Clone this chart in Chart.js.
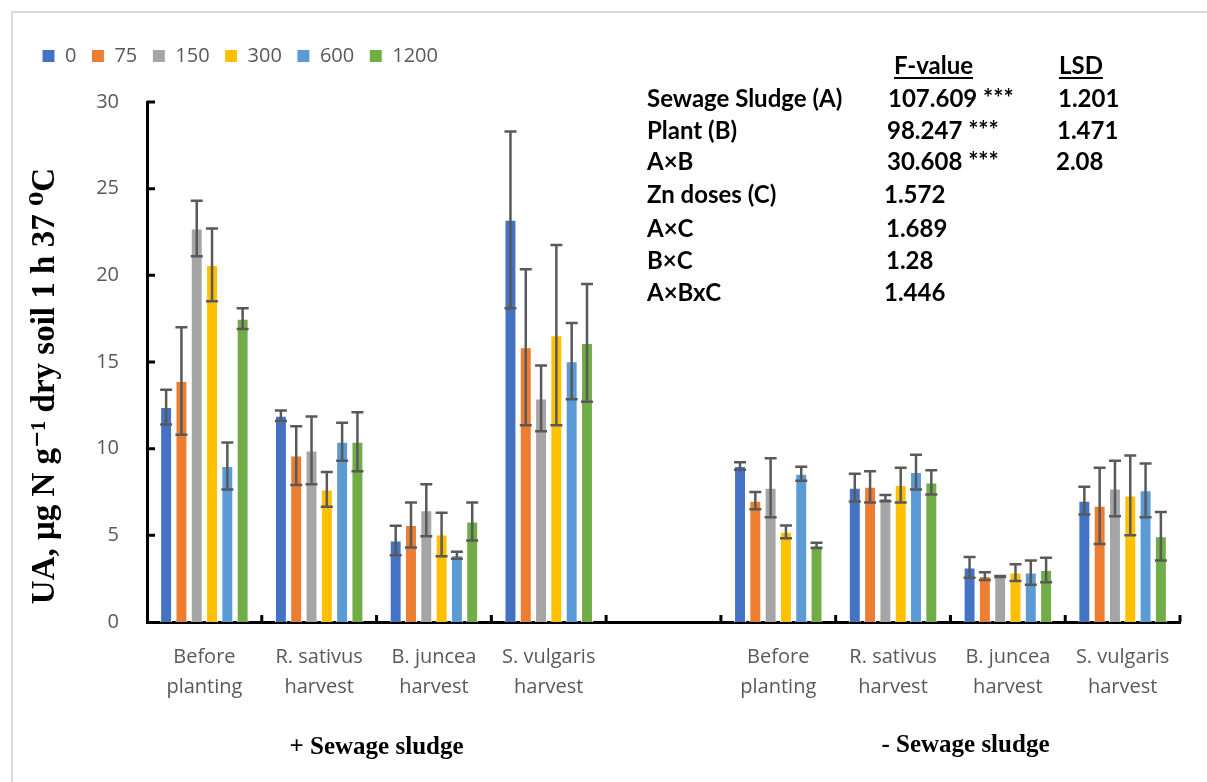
<!DOCTYPE html>
<html>
<head>
<meta charset="utf-8">
<script src="https://cdn.jsdelivr.net/npm/chart.js@4"></script>
<style>
  html, body { margin: 0; padding: 0; background: #fff; }
  #wrap { width: 1207px; height: 782px; position: relative; }
</style>
</head>
<body>
<div id="wrap"><canvas id="chart" width="1207" height="782"></canvas></div>
<script>
/* ---------- data ---------- */
const categories = [
  ["Before", "planting"], ["R. sativus", "harvest"], ["B. juncea", "harvest"], ["S. vulgaris", "harvest"],
  "",
  ["Before", "planting"], ["R. sativus", "harvest"], ["B. juncea", "harvest"], ["S. vulgaris", "harvest"]
];
const doses = ["0", "75", "150", "300", "600", "1200"];
const ua0    = [12.4, 11.9, 4.7, 23.2, null, 9.0, 7.75, 3.15, 7.0];
const ua75   = [13.9, 9.6, 5.6, 15.85, null, 7.0, 7.8, 2.65, 6.7];
const ua150  = [22.7, 9.9, 6.45, 12.9, null, 7.75, 7.15, 2.62, 7.7];
const ua300  = [20.6, 7.65, 5.05, 16.55, null, 5.2, 7.9, 2.85, 7.3];
const ua600  = [9.0, 10.4, 3.85, 15.05, null, 8.55, 8.65, 2.85, 7.6];
const ua1200 = [17.5, 10.4, 5.8, 16.1, null, 4.42, 8.05, 3.0, 4.95];
const err0    = [1.0, 0.3, 0.85, 5.1, null, 0.22, 0.8, 0.6, 0.8];
const err75   = [3.1, 1.7, 1.3, 4.5, null, 0.5, 0.9, 0.22, 2.2];
const err150  = [1.6, 1.95, 1.5, 1.9, null, 1.7, 0.18, 0.03, 1.6];
const err300  = [2.1, 1.0, 1.25, 5.2, null, 0.37, 1.0, 0.48, 2.3];
const err600  = [1.35, 1.1, 0.2, 2.2, null, 0.4, 1.0, 0.7, 1.55];
const err1200 = [0.6, 1.7, 1.1, 3.4, null, 0.15, 0.7, 0.7, 1.4];
const groupLabels = ["+ Sewage sludge", "- Sewage sludge"];
const statRows = ["Sewage Sludge (A)", "Plant (B)", "A\u00d7B", "Zn doses (C)", "A\u00d7C", "B\u00d7C", "A\u00d7BxC"];
const statF = ["107.609 ***", "98.247 ***", "30.608 ***", "1.572", "1.689", "1.28", "1.446"];
const statLSD = ["1.201", "1.471", "2.08", "", "", "", ""];

const colors = ["#4472C4", "#ED7D31", "#A5A5A5", "#FFC000", "#5B9BD5", "#70AD47"];
const values = [ua0, ua75, ua150, ua300, ua600, ua1200];
const errors = [err0, err75, err150, err300, err600, err1200];

const GRAY = "#595959";
const calibri = '"Liberation Sans Narrow", "Open Sans", sans-serif';
const times = '"Liberation Serif", "DejaVu Serif", serif';

/* ---------- extra gap under the legend ---------- */
const legendGap = {
  id: "legendGap",
  beforeInit(chart) {
    const fit = chart.legend.fit;
    chart.legend.fit = function () {
      fit.bind(chart.legend)();
      this.height += 26;
    };
  }
};

/* ---------- error bars ---------- */
const errorBars = {
  id: "errorBars",
  afterDatasetsDraw(chart) {
    const ctx = chart.ctx, y = chart.scales.y;
    ctx.save();
    ctx.strokeStyle = GRAY;
    ctx.lineWidth = 2.5;
    chart.data.datasets.forEach((ds, i) => {
      const meta = chart.getDatasetMeta(i);
      meta.data.forEach((bar, j) => {
        const v = ds.data[j], e = ds.errors[j];
        if (v == null || e == null) return;
        const yt = y.getPixelForValue(v + e), yb = y.getPixelForValue(v - e);
        ctx.beginPath();
        ctx.moveTo(bar.x, yt); ctx.lineTo(bar.x, yb);
        ctx.moveTo(bar.x - 6, yt); ctx.lineTo(bar.x + 6, yt);
        ctx.moveTo(bar.x - 6, yb); ctx.lineTo(bar.x + 6, yb);
        ctx.stroke();
      });
    });
    ctx.restore();
  }
};

/* ---------- axes ticks (inside), titles, stats table ---------- */
const extras = {
  id: "extras",
  afterDraw(chart) {
    const ctx = chart.ctx, a = chart.chartArea, x = chart.scales.x, y = chart.scales.y;
    ctx.save();
    // frame
    ctx.strokeStyle = "#D9D9D9";
    ctx.lineWidth = 2;
    ctx.strokeRect(12, 12, 1300, 900);
    // inside ticks
    ctx.strokeStyle = "#000";
    ctx.lineWidth = 3;
    ctx.beginPath();
    for (let v = 5; v <= 30; v += 5) {
      const py = y.getPixelForValue(v);
      ctx.moveTo(a.left, py); ctx.lineTo(a.left + 8, py);
    }
    const cw = (a.right - a.left) / categories.length;
    for (let i = 1; i <= categories.length; i++) {
      const px = a.left + i * cw;
      ctx.moveTo(px, a.bottom); ctx.lineTo(px, a.bottom - 7);
    }
    ctx.stroke();
    // y title
    ctx.fillStyle = "#000";
    ctx.font = "bold 33px " + times;
    ctx.textAlign = "center";
    ctx.textBaseline = "middle";
    ctx.save();
    ctx.translate(45, 386);
    ctx.rotate(-Math.PI / 2);
    ctx.fillText("UA, \u03bcg N g\u207b\u00b9 dry soil 1 h 37 \u2070C", 0, 0);
    ctx.restore();
    // group labels
    ctx.font = "bold 25px " + times;
    ctx.fillText(groupLabels[0], (x.getPixelForValue(0) + x.getPixelForValue(3)) / 2, 748);
    ctx.fillText(groupLabels[1], (x.getPixelForValue(5) + x.getPixelForValue(8)) / 2 + 15, 746);
    // stats table
    ctx.font = 'bold 24px Lato, "Open Sans", sans-serif';
    ctx.textAlign = "left";
    ctx.fillText("F-value", 894, 66);
    ctx.fillText("LSD", 1059, 66);
    const fw = ctx.measureText("F-value").width, lw = ctx.measureText("LSD").width;
    ctx.lineWidth = 2;
    ctx.beginPath();
    ctx.moveTo(894, 78); ctx.lineTo(894 + fw, 78);
    ctx.moveTo(1059, 78); ctx.lineTo(1059 + lw, 78);
    ctx.stroke();
    const rowY = [99, 131, 162, 195, 229, 261, 293];
    const fx = [888, 887, 887, 884, 886, 886, 884];
    const lx = [1058, 1057, 1056];
    statRows.forEach((r, i) => {
      ctx.fillText(r, 647, rowY[i]);
      ctx.fillText(statF[i], fx[i], rowY[i]);
      if (statLSD[i]) ctx.fillText(statLSD[i], lx[i], rowY[i]);
    });
    ctx.restore();
  }
};

new Chart(document.getElementById("chart"), {
  type: "bar",
  data: {
    labels: categories,
    datasets: doses.map((d, i) => ({
      label: d,
      data: values[i],
      errors: errors[i],
      backgroundColor: colors[i],
      borderColor: "#ffffff",
      borderWidth: 1,
      barPercentage: 0.78,
      categoryPercentage: 0.8
    }))
  },
  options: {
    responsive: false,
    animation: false,
    layout: { padding: { left: 27, right: 27, top: 31, bottom: 0 } },
    plugins: {
      tooltip: { enabled: false },
      legend: {
        position: "top",
        align: "start",
        labels: {
          boxWidth: 13,
          boxHeight: 13,
          padding: 15,
          color: GRAY,
          font: { family: calibri, size: 20 }
        }
      }
    },
    scales: {
      x: {
        grid: { display: false },
        border: { color: "#000", width: 3 },
        ticks: {
          color: GRAY,
          font: { family: calibri, size: 20, lineHeight: 1.5 },
          maxRotation: 0,
          autoSkip: false,
          padding: 12
        },
        afterFit(s) { s.height = 160; }
      },
      y: {
        min: 0,
        max: 30,
        grid: { display: false },
        border: { color: "#000", width: 3 },
        ticks: {
          stepSize: 5,
          color: GRAY,
          font: { family: calibri, size: 20 },
          padding: 20
        },
        afterFit(s) { s.width = 120; }
      }
    }
  },
  plugins: [legendGap, errorBars, extras]
});
</script>
</body>
</html>
